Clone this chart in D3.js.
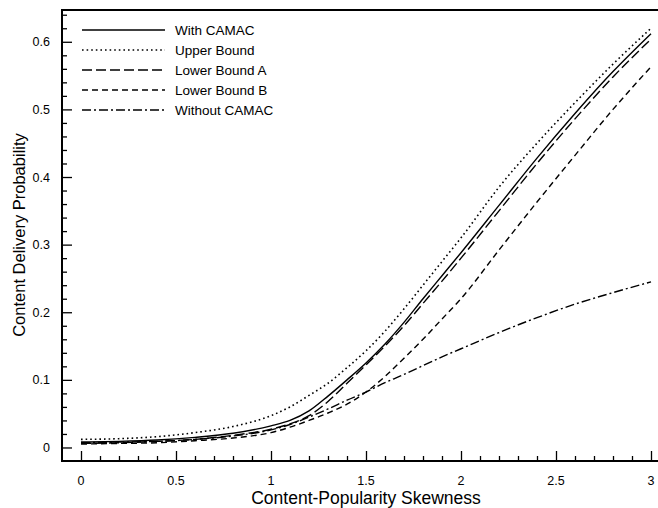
<!DOCTYPE html>
<html>
<head>
<meta charset="utf-8">
<script src="https://cdn.jsdelivr.net/npm/d3@7"></script>
<style>
  body { margin: 0; background: #fff; }
  text { font-family: "Liberation Sans", Arial, Helvetica, sans-serif; fill: #000; }
</style>
</head>
<body>
<svg id="chart" width="658" height="508"></svg>
<script>
// skewness values and curve values
const skew      = [0, 0.2, 0.4, 0.6, 0.8, 1.0, 1.1, 1.2, 1.3, 1.4, 1.5, 1.6, 1.7, 1.8, 1.9, 2.0, 2.2, 2.4, 2.6, 2.8, 3.0];
const withCamac = [0.008, 0.009, 0.011, 0.015, 0.021, 0.032, 0.040, 0.054, 0.076, 0.100, 0.125, 0.153, 0.185, 0.220, 0.254, 0.288, 0.358, 0.428, 0.494, 0.556, 0.612];
const upperBound = [0.012, 0.013, 0.016, 0.022, 0.031, 0.047, 0.060, 0.077, 0.095, 0.118, 0.143, 0.172, 0.205, 0.240, 0.275, 0.310, 0.385, 0.450, 0.510, 0.567, 0.620];
const lowerA    = [0.006, 0.007, 0.009, 0.012, 0.018, 0.027, 0.035, 0.047, 0.068, 0.095, 0.122, 0.150, 0.180, 0.213, 0.246, 0.280, 0.350, 0.420, 0.486, 0.548, 0.604];
const lowerB    = [0.005, 0.006, 0.007, 0.010, 0.014, 0.022, 0.030, 0.040, 0.051, 0.064, 0.082, 0.105, 0.132, 0.160, 0.190, 0.220, 0.292, 0.363, 0.432, 0.500, 0.563];
const without   = [0.007, 0.008, 0.009, 0.012, 0.017, 0.026, 0.034, 0.045, 0.057, 0.070, 0.082, 0.096, 0.108, 0.121, 0.134, 0.146, 0.170, 0.192, 0.212, 0.229, 0.245];

const xTicks = [0, 0.5, 1, 1.5, 2, 2.5, 3];
const yTicks = [0, 0.1, 0.2, 0.3, 0.4, 0.5, 0.6];

const series = [
  { name: "With CAMAC",    values: withCamac,  dash: null },
  { name: "Upper Bound",   values: upperBound, dash: "1.6,3" },
  { name: "Lower Bound A", values: lowerA,     dash: "10,4" },
  { name: "Lower Bound B", values: lowerB,     dash: "6,4" },
  { name: "Without CAMAC", values: without,    dash: "9,3,2,3" }
];

var svg = d3.select("#chart");
var pLeft = 62, pTop = 10, pBottom = 461, pRight = 670;

var x = d3.scaleLinear().domain([-0.1, 3.1]).range([pLeft, pRight]);
var y = d3.scaleLinear().domain([-0.02, 0.647]).range([pBottom, pTop]);

// curves
var line = d3.line()
  .x(function(d) { return x(d[0]); })
  .y(function(d) { return y(d[1]); })
  .curve(d3.curveMonotoneX);

series.forEach(function(s) {
  svg.append("path")
    .datum(skew.map(function(v, i) { return [v, s.values[i]]; }))
    .attr("d", line)
    .attr("fill", "none")
    .attr("stroke", "#000")
    .attr("stroke-width", s.dash == "1.6,3" ? 1.6 : 1.4)
    .attr("stroke-dasharray", s.dash);
});

// axes: ticks point inward
var xAxis = d3.axisBottom(x).tickValues(d3.range(0, 3.05, 0.1)).tickSize(0).tickFormat("");
var gx = svg.append("g").attr("transform", "translate(0," + pBottom + ")").call(xAxis);
gx.select(".domain").remove();
gx.selectAll(".tick line")
  .attr("y2", function(d) { return Math.abs(d * 2 - Math.round(d * 2)) < 1e-6 ? -10 : -5; })
  .attr("stroke", "#000").attr("stroke-width", 1.3);

var yMinor = d3.range(0, 33).map(function(i) { return +(i * 0.02).toFixed(2); });
var yAxis = d3.axisLeft(y).tickValues(yMinor).tickSize(0).tickFormat("");
var gy = svg.append("g").attr("transform", "translate(" + pLeft + ",0)").call(yAxis);
gy.select(".domain").remove();
gy.selectAll(".tick line")
  .attr("x2", function(d) { return Math.abs(d * 10 - Math.round(d * 10)) < 1e-6 ? 10 : 5; })
  .attr("stroke", "#000").attr("stroke-width", 1.3);

// frame (left, top, bottom)
svg.append("path")
  .attr("d", "M" + 658 + "," + pTop + "H" + pLeft + "V" + pBottom + "H" + 658)
  .attr("fill", "none").attr("stroke", "#000").attr("stroke-width", 2);

// tick labels
svg.selectAll(".xlab").data(xTicks).enter().append("text")
  .attr("x", function(d) { return x(d); })
  .attr("y", 485)
  .attr("text-anchor", "middle")
  .style("font-size", "12.5px")
  .text(function(d) { return d; });

svg.selectAll(".ylab").data(yTicks).enter().append("text")
  .attr("x", 50)
  .attr("y", function(d) { return y(d) + 4.5; })
  .attr("text-anchor", "end")
  .style("font-size", "12.5px")
  .text(function(d) { return d; });

// axis titles
svg.append("text").attr("x", x(1.5)).attr("y", 504).attr("text-anchor", "middle")
  .style("font-size", "17.5px").text("Content-Popularity Skewness");
svg.append("text").attr("transform", "rotate(-90)").attr("x", -235).attr("y", 25)
  .attr("text-anchor", "middle").style("font-size", "16.5px").text("Content Delivery Probability");

// legend
var lg = svg.append("g");
series.forEach(function(s, i) {
  var ly = 30 + i * 20;
  lg.append("line").attr("x1", 82).attr("x2", 165).attr("y1", ly).attr("y2", ly)
    .attr("stroke", "#000").attr("stroke-width", s.dash == "1.6,3" ? 1.6 : 1.4)
    .attr("stroke-dasharray", s.dash);
  lg.append("text").attr("x", 175).attr("y", ly + 4.5).style("font-size", "13.5px").text(s.name);
});
</script>
</body>
</html>
